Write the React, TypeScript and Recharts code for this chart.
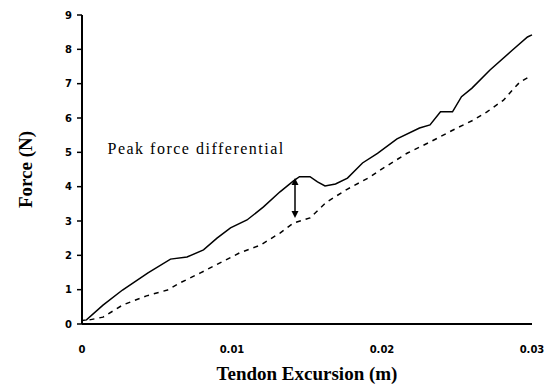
import { LineChart, Line, XAxis, YAxis, ReferenceLine, ReferenceDot } from 'recharts'

const SOLID_X = [0, 0.0003, 0.0014, 0.0027, 0.0044, 0.0059, 0.007, 0.0081, 0.009, 0.0099, 0.011, 0.0121, 0.0132, 0.0141, 0.0145, 0.0152, 0.0157, 0.0162, 0.0169, 0.0177, 0.0187, 0.0197, 0.021, 0.0225, 0.0232, 0.0239, 0.0247, 0.0253, 0.026, 0.0272, 0.0287, 0.0297, 0.03]
const SOLID_Y = [0.1, 0.12, 0.55, 0.99, 1.49, 1.89, 1.95, 2.16, 2.5, 2.8, 3.03, 3.41, 3.85, 4.17, 4.29, 4.29, 4.14, 4.02, 4.08, 4.25, 4.69, 4.97, 5.39, 5.71, 5.8, 6.18, 6.18, 6.62, 6.87, 7.4, 7.98, 8.36, 8.42]

const DASHED_X = [0.0005, 0.0014, 0.0027, 0.0043, 0.0057, 0.0065, 0.0079, 0.0092, 0.0105, 0.0119, 0.0132, 0.0141, 0.0152, 0.0163, 0.0177, 0.0192, 0.0199, 0.0217, 0.0232, 0.025, 0.0261, 0.027, 0.0281, 0.0287, 0.0292, 0.0297, 0.03]
const DASHED_Y = [0.12, 0.2, 0.55, 0.82, 0.99, 1.19, 1.49, 1.78, 2.07, 2.3, 2.65, 2.94, 3.09, 3.55, 3.93, 4.28, 4.49, 4.98, 5.3, 5.71, 5.94, 6.18, 6.52, 6.82, 7.05, 7.17, 7.2]

const X_TICKS = [0, 0.01, 0.02, 0.03]
const Y_TICKS = [0, 1, 2, 3, 4, 5, 6, 7, 8, 9]

const ARROW_X = 0.0142
const ARROW_TOP = 4.25
const ARROW_BOTTOM = 3.09

const NOTE = 'Peak force differential'
const NOTE_X = 0.0017
const NOTE_Y = 5.13

const solidData = SOLID_X.map((x, i) => ({ x, force: SOLID_Y[i] }))
const dashedData = DASHED_X.map((x, i) => ({ x, force: DASHED_Y[i] }))

const tickFont = { fontFamily: 'DejaVu Sans', fontSize: 10, fontWeight: 700, fill: '#000' }
const titleFont = { fontFamily: 'Liberation Serif', fontSize: 19, fontWeight: 700, fill: '#000' }
const noteFont = { fontFamily: 'Liberation Serif', fontSize: 16, letterSpacing: 1.5, fill: '#000' }

function DoubleArrow(props: any) {
  const { x1, y1, x2, y2 } = props
  const top = Math.min(y1, y2)
  const bot = Math.max(y1, y2)
  return (
    <g>
      <line x1={x1} y1={top + 2} x2={x2} y2={bot - 2} stroke="#000" strokeWidth={1.5} />
      <polygon points={`${x1},${top} ${x1 - 3.5},${top + 7} ${x1 + 3.5},${top + 7}`} fill="#000" />
      <polygon points={`${x1},${bot} ${x1 - 3.5},${bot - 7} ${x1 + 3.5},${bot - 7}`} fill="#000" />
    </g>
  )
}

export default function App() {
  return (
    <div style={{ position: 'absolute', left: 0, top: 0, width: 545, height: 385, background: '#fff' }}>
      <LineChart width={545} height={385} margin={{ top: 15, right: 13, bottom: 0, left: 0 }}>
        <XAxis
          type="number"
          dataKey="x"
          domain={[0, 0.03]}
          ticks={X_TICKS}
          tickFormatter={(v: number) => (v === 0 ? '0' : v.toFixed(2))}
          tick={tickFont}
          tickLine={false}
          tickMargin={16}
          height={61}
          axisLine={{ stroke: '#000', strokeWidth: 2 }}
          allowDuplicatedCategory={false}
          label={{ value: 'Tendon Excursion (m)', position: 'insideBottom', offset: 5, style: titleFont }}
        />
        <YAxis
          type="number"
          domain={[0, 9]}
          ticks={Y_TICKS}
          tick={tickFont}
          tickSize={5}
          tickMargin={5}
          width={82}
          axisLine={{ stroke: '#000', strokeWidth: 2 }}
          tickLine={{ stroke: '#000', strokeWidth: 1.5 }}
          label={{ value: 'Force (N)', angle: -90, position: 'center', dx: -16, style: titleFont }}
        />
        <Line data={solidData} dataKey="force" type="linear" stroke="#000" strokeWidth={1.5} dot={false} isAnimationActive={false} />
        <Line data={dashedData} dataKey="force" type="linear" stroke="#000" strokeWidth={1.5} strokeDasharray="5 5" dot={false} isAnimationActive={false} />
        <ReferenceLine
          segment={[{ x: ARROW_X, y: ARROW_TOP }, { x: ARROW_X, y: ARROW_BOTTOM }]}
          shape={DoubleArrow}
        />
        <ReferenceDot
          x={NOTE_X}
          y={NOTE_Y}
          r={0}
          fill="none"
          stroke="none"
          label={{ value: NOTE, position: 'right', offset: 0, style: noteFont }}
        />
      </LineChart>
    </div>
  )
}
